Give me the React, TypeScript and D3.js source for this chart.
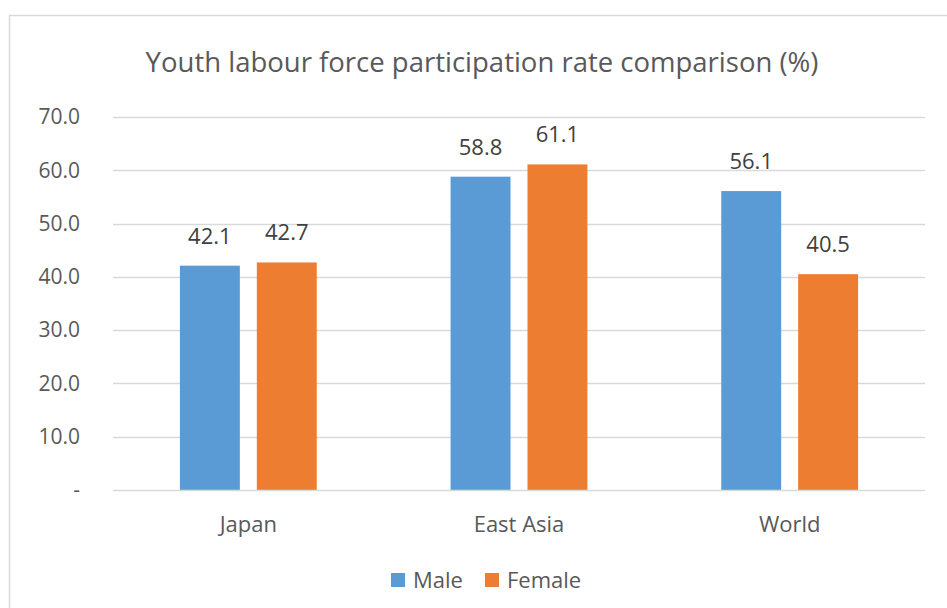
import React, { useEffect, useRef } from 'react';
import * as d3 from 'd3';

const categories = ['Japan', 'East Asia', 'World'];
const seriesNames = ['Male', 'Female'];
const maleValues = [42.1, 58.8, 56.1];
const femaleValues = [42.7, 61.1, 40.5];
const yTicks = [0, 10, 20, 30, 40, 50, 60, 70];
const title = 'Youth labour force participation rate comparison (%)';

const colors = ['#5b9bd5', '#ed7d31'];
const font = "'Open Sans', 'Noto Sans', sans-serif";

const App = () => {
    const svgRef = useRef<SVGSVGElement>(null);

    useEffect(() => {
        if (!svgRef.current) return;
        const svg = d3.select(svgRef.current);
        svg.selectAll('*').remove();

        const W = 947, H = 608;
        const left = 113, right = 925, top = 117, bottom = 490;

        // outer chart border
        svg.append('rect')
            .attr('x', 9.5).attr('y', 15.5)
            .attr('width', W + 20).attr('height', H + 20)
            .attr('fill', '#fff')
            .attr('stroke', '#d9d9d9')
            .attr('stroke-width', 1.5);

        svg.append('text')
            .attr('x', 482).attr('y', 72)
            .attr('text-anchor', 'middle')
            .style('font-family', font)
            .style('font-size', '27.5px')
            .style('fill', '#595959')
            .text(title);

        const x0 = d3.scaleBand().domain(categories).range([left, right]);
        const x1 = d3.scaleBand().domain(seriesNames).range([0, x0.bandwidth()]).paddingInner(0.221).paddingOuter(0.87);
        const y = d3.scaleLinear().domain([0, 70]).range([bottom, top]);

        // gridlines
        svg.append('g').selectAll('line')
            .data(yTicks.filter(d => d > 0))
            .enter().append('line')
            .attr('x1', left).attr('x2', right)
            .attr('y1', d => Math.round(y(d)) + 0.5).attr('y2', d => Math.round(y(d)) + 0.5)
            .attr('stroke', '#d9d9d9').attr('stroke-width', 1.3);

        // y tick labels
        svg.append('g').selectAll('text')
            .data(yTicks)
            .enter().append('text')
            .attr('x', 80).attr('y', d => y(d))
            .attr('dy', '0.35em')
            .attr('text-anchor', 'end')
            .style('font-family', font)
            .style('font-size', '21px')
            .style('fill', '#595959')
            .text(d => d === 0 ? '-' : d.toFixed(1));

        const seriesData = [maleValues, femaleValues];

        const groups = svg.append('g').selectAll('g')
            .data(categories)
            .enter().append('g')
            .attr('transform', d => `translate(${x0(d)},0)`);

        seriesNames.forEach((name, si) => {
            groups.append('rect')
                .attr('x', x1(name)!)
                .attr('width', x1.bandwidth())
                .attr('y', (d, i) => y(seriesData[si][i]))
                .attr('height', (d, i) => bottom - y(seriesData[si][i]))
                .attr('fill', colors[si]);

            groups.append('text')
                .attr('x', x1(name)! + x1.bandwidth() / 2)
                .attr('y', (d, i) => y(seriesData[si][i]) - 22)
                .attr('text-anchor', 'middle')
                .style('font-family', font)
                .style('font-size', '22px')
                .style('fill', '#404040')
                .text((d, i) => seriesData[si][i].toFixed(1));
        });

        // axis line
        svg.append('line')
            .attr('x1', left).attr('x2', right)
            .attr('y1', bottom + 0.5).attr('y2', bottom + 0.5)
            .attr('stroke', '#d9d9d9').attr('stroke-width', 1.5);

        // category labels
        svg.append('g').selectAll('text')
            .data(categories)
            .enter().append('text')
            .attr('x', d => x0(d)! + x0.bandwidth() / 2)
            .attr('y', 532)
            .attr('text-anchor', 'middle')
            .style('font-family', font)
            .style('font-size', '22px')
            .style('fill', '#595959')
            .text(d => d);

        // legend
        const legendX = [391, 485];
        seriesNames.forEach((name, si) => {
            svg.append('rect')
                .attr('x', legendX[si]).attr('y', 573)
                .attr('width', 14).attr('height', 14)
                .attr('fill', colors[si]);
            svg.append('text')
                .attr('x', legendX[si] + 22).attr('y', 588)
                .style('font-family', font)
                .style('font-size', '22px')
                .style('fill', '#595959')
                .text(name);
        });
    }, []);

    return (
        <svg ref={svgRef} width={947} height={608}
            style={{ position: 'absolute', left: 0, top: 0, display: 'block' }} />
    );
};

export default App;
